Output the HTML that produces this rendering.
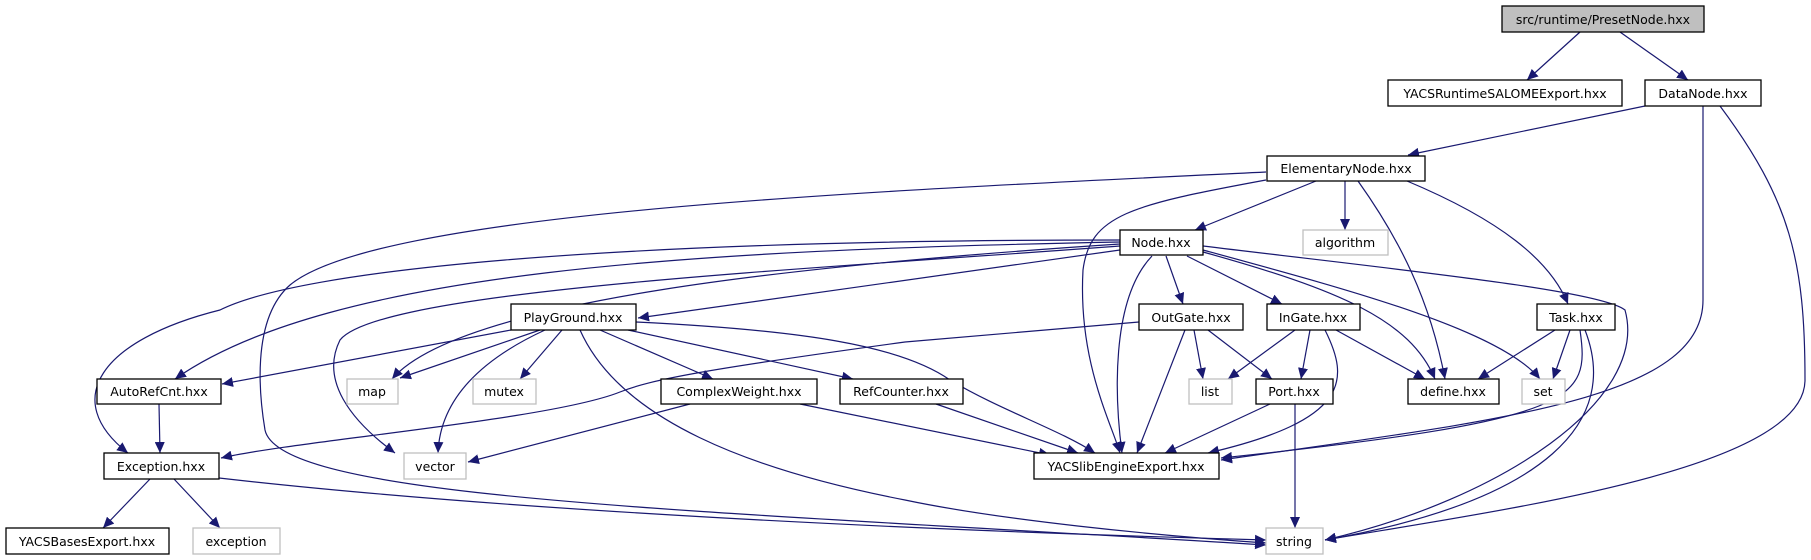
<!DOCTYPE html>
<html><head><meta charset="utf-8"><style>
html,body{margin:0;padding:0;background:#fff;}
svg{display:block;}
text{font-family:"DejaVu Sans","Liberation Sans",sans-serif;font-size:12.5px;fill:#000;text-anchor:middle;}
.e{fill:none;stroke:#191970;stroke-width:1.2;marker-end:url(#a);}
.n{fill:#fff;stroke:#000;stroke-width:1.3;}
.g{fill:#fff;stroke:#bfbfbf;stroke-width:1.3;}
</style></head><body>
<svg width="1811" height="560" viewBox="0 0 1811 560" xmlns="http://www.w3.org/2000/svg">
<defs><marker id="a" markerUnits="userSpaceOnUse" markerWidth="12" markerHeight="10" refX="11" refY="5" orient="auto"><path d="M0,0 L11,5 L0,10 z" fill="#191970"/></marker></defs>
<g>
<path class="e" d="M1580,32 L1527,80"/>
<path class="e" d="M1620,32 L1688,80"/>
<path class="e" d="M1645,106 L1408,155"/>
<path class="e" d="M1703,106 L1703,300 C1703,400 1500,420 1221,460"/>
<path class="e" d="M1720,106 C1790,200 1805,260 1805,380 C1805,470 1500,510 1325,540"/>
<path class="e" d="M1266,172 C900,190 380,210 290,285 C250,320 260,400 265,430 C280,500 700,510 1266,545"/>
<path class="e" d="M1266,180 C1130,205 1090,215 1083,270 C1078,360 1110,420 1120,453"/>
<path class="e" d="M1316,181 L1195,230"/>
<path class="e" d="M1345,181 L1345,230"/>
<path class="e" d="M1358,181 C1400,240 1430,300 1445,379"/>
<path class="e" d="M1407,181 C1500,220 1550,260 1568,304"/>
<path class="e" d="M1203,246 C1400,270 1600,290 1625,310 C1650,400 1500,500 1325,540"/>
<path class="e" d="M1203,250 C1350,290 1500,330 1540,379"/>
<path class="e" d="M1203,252 C1340,290 1410,320 1435,379"/>
<path class="e" d="M1187,256 L1282,304"/>
<path class="e" d="M1166,256 L1183,304"/>
<path class="e" d="M1152,256 C1110,300 1115,400 1122,453"/>
<path class="e" d="M1120,250 L638,318"/>
<path class="e" d="M1120,246 C800,270 380,290 340,340 C320,380 350,420 395,453"/>
<path class="e" d="M1120,244 C800,265 460,300 392,379"/>
<path class="e" d="M1120,242 C700,250 330,270 175,379"/>
<path class="e" d="M1120,240 C600,240 300,270 220,310 C100,340 60,400 128,453"/>
<path class="e" d="M511,330 L222,384"/>
<path class="e" d="M540,330 L400,378"/>
<path class="e" d="M545,330 C480,360 440,400 438,453"/>
<path class="e" d="M562,330 L520,379"/>
<path class="e" d="M600,330 L713,379"/>
<path class="e" d="M628,330 L853,379"/>
<path class="e" d="M636,322 C800,330 900,345 950,380 C1000,410 1060,430 1095,453"/>
<path class="e" d="M580,330 C620,420 750,470 905,500 C1000,520 1150,535 1266,543"/>
<path class="e" d="M1139,322 L905,342 C700,370 650,380 620,392 C550,420 300,440 221,458"/>
<path class="e" d="M1194,330 L1203,379"/>
<path class="e" d="M1208,330 L1272,379"/>
<path class="e" d="M1185,330 L1137,453"/>
<path class="e" d="M1295,330 L1228,379"/>
<path class="e" d="M1310,330 L1301,379"/>
<path class="e" d="M1325,330 C1350,380 1350,420 1208,453"/>
<path class="e" d="M1336,330 L1425,379"/>
<path class="e" d="M1555,330 L1478,379"/>
<path class="e" d="M1570,330 L1553,379"/>
<path class="e" d="M1580,330 C1590,400 1580,420 1221,458"/>
<path class="e" d="M1585,330 C1620,420 1550,500 1325,540"/>
<path class="e" d="M159,404 L160,453"/>
<path class="e" d="M690,404 L468,462"/>
<path class="e" d="M800,404 L1050,455"/>
<path class="e" d="M936,404 L1078,453"/>
<path class="e" d="M1270,404 L1165,453"/>
<path class="e" d="M1295,404 L1295,528"/>
<path class="e" d="M150,479 L103,528"/>
<path class="e" d="M174,479 L220,528"/>
<path class="e" d="M219,478 C500,510 900,530 1266,540"/>
</g>
<g>
<rect x="1502" y="6" width="202" height="26" fill="#bfbfbf" stroke="#000" stroke-width="1.3"/><text x="1603" y="24">src/runtime/PresetNode.hxx</text>
<rect class="n" x="1388" y="80" width="234" height="26"/><text x="1505" y="98">YACSRuntimeSALOMEExport.hxx</text>
<rect class="n" x="1645" y="80" width="116" height="26"/><text x="1703" y="98">DataNode.hxx</text>
<rect class="n" x="1267" y="156" width="158" height="25"/><text x="1346" y="173">ElementaryNode.hxx</text>
<rect class="n" x="1120" y="230" width="83" height="25"/><text x="1161" y="247">Node.hxx</text>
<rect class="g" x="1303" y="230" width="85" height="25"/><text x="1345" y="247">algorithm</text>
<rect class="n" x="511" y="304" width="125" height="26"/><text x="573" y="322">PlayGround.hxx</text>
<rect class="n" x="1139" y="304" width="104" height="26"/><text x="1191" y="322">OutGate.hxx</text>
<rect class="n" x="1267" y="304" width="93" height="26"/><text x="1313" y="322">InGate.hxx</text>
<rect class="n" x="1537" y="304" width="78" height="26"/><text x="1576" y="322">Task.hxx</text>
<rect class="n" x="97" y="379" width="124" height="25"/><text x="159" y="396">AutoRefCnt.hxx</text>
<rect class="g" x="347" y="379" width="51" height="25"/><text x="372" y="396">map</text>
<rect class="g" x="473" y="379" width="63" height="25"/><text x="504" y="396">mutex</text>
<rect class="n" x="661" y="379" width="156" height="25"/><text x="739" y="396">ComplexWeight.hxx</text>
<rect class="n" x="840" y="379" width="123" height="25"/><text x="901" y="396">RefCounter.hxx</text>
<rect class="g" x="1189" y="379" width="43" height="25"/><text x="1210" y="396">list</text>
<rect class="n" x="1256" y="379" width="77" height="25"/><text x="1294" y="396">Port.hxx</text>
<rect class="n" x="1408" y="379" width="91" height="25"/><text x="1453" y="396">define.hxx</text>
<rect class="g" x="1522" y="379" width="43" height="25"/><text x="1543" y="396">set</text>
<rect class="n" x="104" y="453" width="115" height="26"/><text x="161" y="471">Exception.hxx</text>
<rect class="g" x="404" y="453" width="62" height="26"/><text x="435" y="471">vector</text>
<rect class="n" x="1034" y="453" width="185" height="26"/><text x="1126" y="471">YACSlibEngineExport.hxx</text>
<rect class="n" x="6" y="528" width="163" height="26"/><text x="87" y="546">YACSBasesExport.hxx</text>
<rect class="g" x="193" y="528" width="87" height="26"/><text x="236" y="546">exception</text>
<rect class="g" x="1266" y="528" width="57" height="26"/><text x="1294" y="546">string</text>
</g>
</svg>
</body></html>
